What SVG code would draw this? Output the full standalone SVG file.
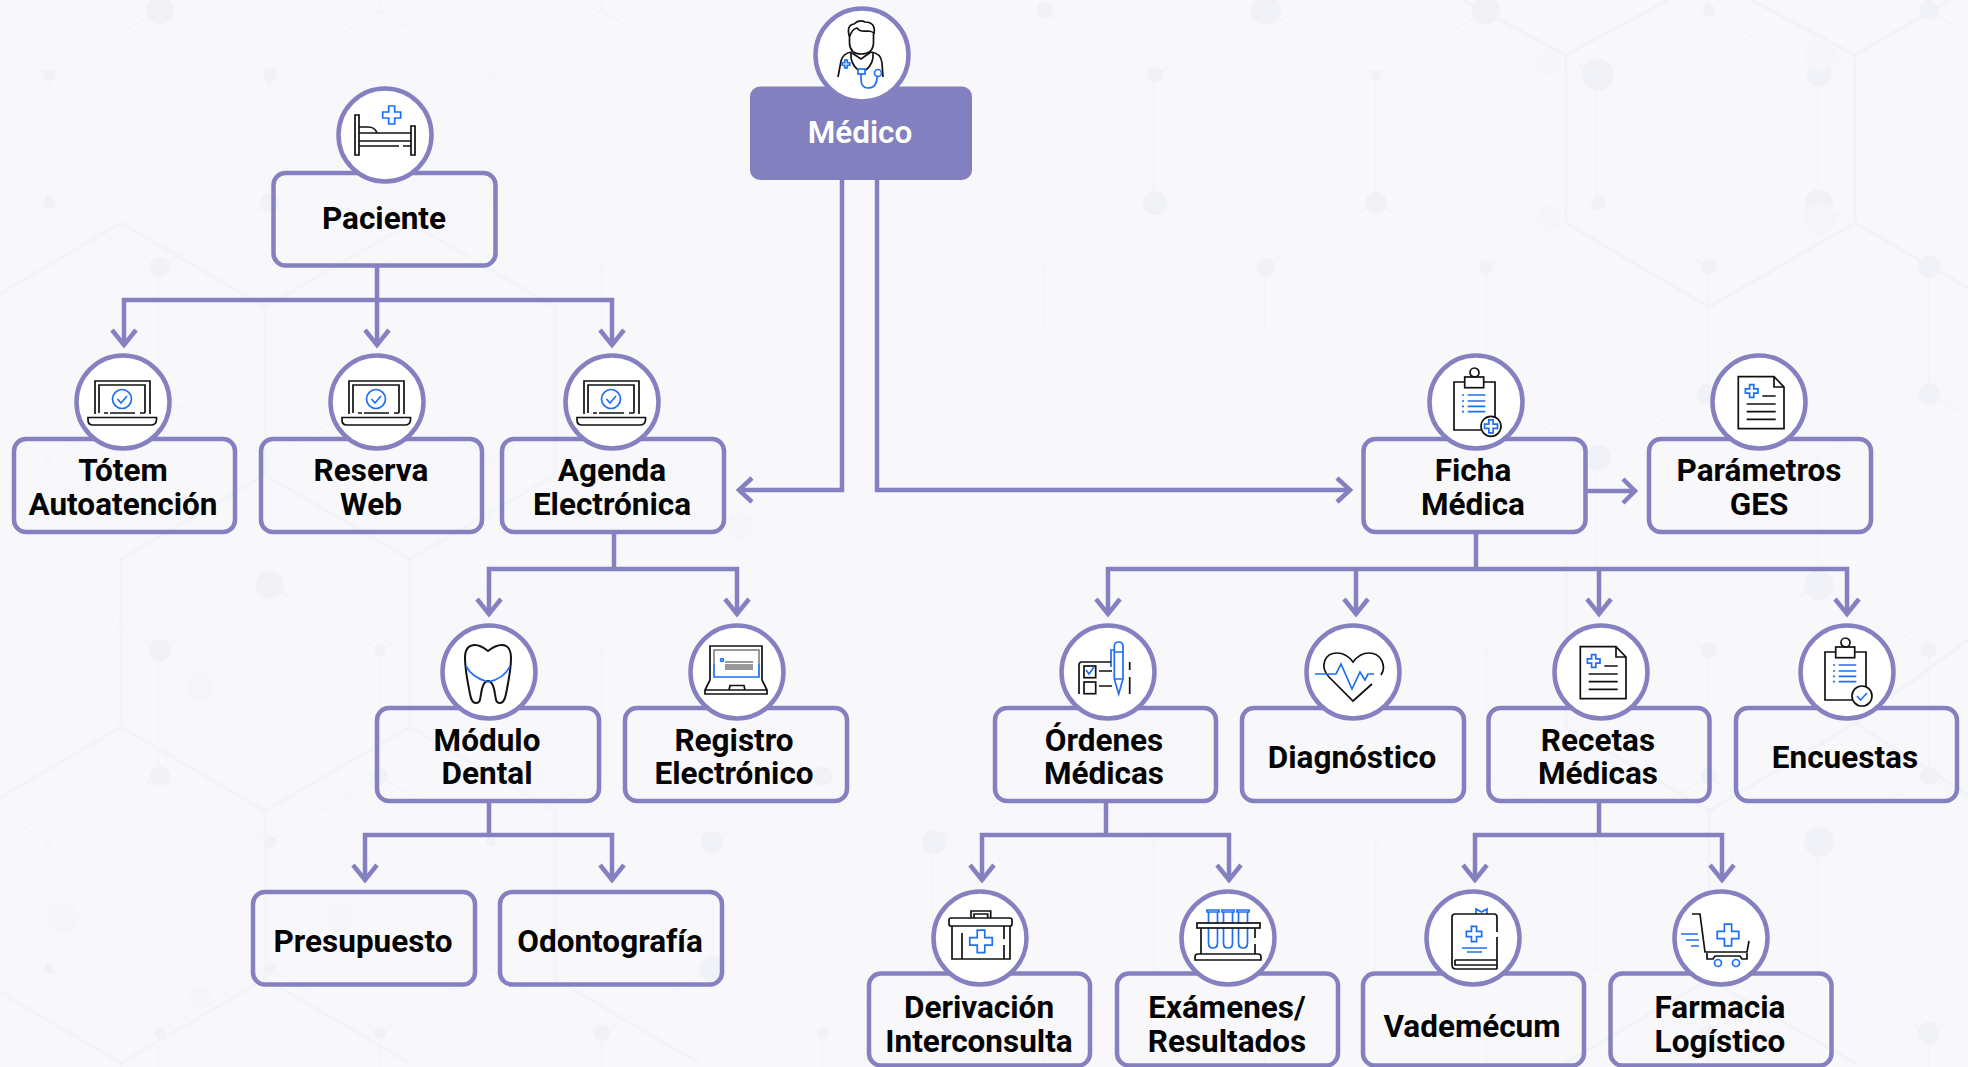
<svg xmlns="http://www.w3.org/2000/svg" xmlns:xlink="http://www.w3.org/1999/xlink" width="1968" height="1067" viewBox="0 0 1968 1067">
<style>
.box{fill:none;stroke:#8581c0;stroke-width:4.5}
.disc{fill:#fff;stroke:#8581c0;stroke-width:4.5}
.lbl{font-family:Roboto,"Liberation Sans",sans-serif;font-weight:700;font-size:31.500px;fill:#050505;text-anchor:middle}
.conn{fill:none;stroke:#8581c0;stroke-width:4.5}
.head{fill:none;stroke:#8581c0;stroke-width:4.5}
.k{fill:none;stroke:#111;stroke-width:1.7}
.b{fill:none;stroke:#1e6ff2;stroke-width:1.7}
.bx{fill:none;stroke:#1e6ff2;stroke-width:1.7;vector-effect:non-scaling-stroke}
.g{fill:none;stroke:#777;stroke-width:1.5}
.dot{fill:#f0f2f8}
.dot2{fill:#f5f5fa}
</style>
<defs>
<pattern id="thin" patternUnits="userSpaceOnUse" width="221.3" height="383" patternTransform="translate(48 75)">
<path d="M0,0V128L110.65,192L221.3,128V0M110.65,192V319L0,383M110.65,319L221.3,383" fill="none" stroke="#f3f4f9" stroke-width="1.5"/>
</pattern>
<path id="cross" d="M-3,-9H3V-3H9V3H3V9H-3V3H-9V-3H-3Z" class="bx"/>
<g id="i-laptop">
<path class="k" d="M-28,12V-21H27V12M-24,11V-17H22V11M-19,11H-15M-13,11H12M17,11H22"/>
<path class="k" d="M-35,15.500H33.500V18Q33,23 28,23H-30Q-35,23 -35,18Z"/>
<circle class="b" cx="-1" cy="-3" r="9.500"/>
<path class="b" d="M-5.500,-3L-2,1L4,-6"/>
</g>
<g id="i-doc">
<path class="k" d="M-20.700,-25.300H15L25,-15V26.700H-20.700ZM15,-25.300V-15H25"/>
<use href="#cross" transform="translate(-7.300 -11) scale(.7)"/>
<path class="k" d="M3.300,-6H16.700M-12.300,2H16.700M-12.300,9.700H16.700M-12.300,17.300H16.700"/>
</g>
<g id="i-clip">
<path class="k" d="M-11,-20H-22V28H19V-20H8"/>
<rect class="k" x="-11.300" y="-25" width="19" height="10.700"/>
<circle class="k" cx="-1.500" cy="-29.500" r="4.500"/>
<path class="b" d="M-8.300,-7H9.300M-8.300,-1H9.300M-8.300,4.300H9.300M-8.300,9.700H9.300M-14,-7H-12M-14,-1H-12M-14,4.300H-12M-14,9.700H-12"/>
</g>
</defs>
<rect width="1968" height="1067" fill="#f8f8fb"/>
<g id="background">
<rect x="0" y="0" width="640" height="1067" fill="url(#thin)"/>
<rect x="1040" y="0" width="928" height="330" fill="url(#thin)"/>
<rect x="1430" y="330" width="538" height="737" fill="url(#thin)"/>
<rect x="640" y="800" width="790" height="267" fill="url(#thin)"/>
<path d="M1462,0L1566,55V223L1709,307L1855,223V55L1751,0M1566,55L1668,0M1855,55L1950,0M1855,223L1968,288" fill="none" stroke="#f1f3f8" stroke-width="3.500"/>
<path d="M-23,307L121,223L265,307V475L121,559V727L-23,811M265,475L410,559V727L265,811V979L121,1063M410,223L265,307M410,223L555,307V475L410,559M121,727L265,811M410,727L555,811V979L699,1063M-23,979L121,1063V1067M265,979L410,1063" fill="none" stroke="#f3f4f9" stroke-width="3.500"/>
<path d="M1968,640L1855,723L1709,811V979L1566,1063M1709,979L1855,1063M1855,723L1968,795M1709,811L1566,727M1566,727V559" fill="none" stroke="#f1f3f8" stroke-width="3.500"/>
<circle class="dot" cx="160" cy="10" r="14"/><circle class="dot" cx="49" cy="75" r="6"/><circle class="dot" cx="270" cy="75" r="7"/>
<circle class="dot" cx="49" cy="203" r="6"/><circle class="dot" cx="270" cy="203" r="10"/><circle class="dot" cx="160" cy="267" r="10"/>
<circle class="dot" cx="270" cy="585" r="14"/><circle class="dot" cx="160" cy="650" r="11"/><circle class="dot" cx="380" cy="650" r="6"/>
<circle class="dot" cx="160" cy="776" r="10"/><circle class="dot" cx="380" cy="776" r="8"/><circle class="dot" cx="270" cy="842" r="6"/>
<circle class="dot" cx="491" cy="842" r="5"/><circle class="dot" cx="712" cy="842" r="11"/><circle class="dot" cx="934" cy="842" r="12"/>
<circle class="dot" cx="823" cy="776" r="10"/><circle class="dot" cx="49" cy="969" r="5"/><circle class="dot" cx="270" cy="969" r="6"/>
<circle class="dot" cx="712" cy="969" r="13"/><circle class="dot" cx="160" cy="1033" r="6"/><circle class="dot" cx="380" cy="1033" r="6"/>
<circle class="dot" cx="602" cy="1033" r="8"/><circle class="dot" cx="823" cy="1033" r="6"/>
<circle class="dot" cx="1045" cy="10" r="8"/><circle class="dot" cx="1266" cy="10" r="15"/><circle class="dot" cx="1486" cy="10" r="14"/>
<circle class="dot" cx="1709" cy="10" r="6"/><circle class="dot" cx="1929" cy="10" r="10"/>
<circle class="dot" cx="1155" cy="75" r="8"/><circle class="dot" cx="1376" cy="75" r="5"/><circle class="dot" cx="1598" cy="75" r="16"/><circle class="dot" cx="1819" cy="75" r="12"/>
<circle class="dot" cx="1155" cy="203" r="12"/><circle class="dot" cx="1376" cy="203" r="11"/><circle class="dot" cx="1598" cy="203" r="7"/><circle class="dot" cx="1819" cy="203" r="14"/>
<circle class="dot" cx="1266" cy="267" r="9"/><circle class="dot" cx="1486" cy="267" r="7"/><circle class="dot" cx="1709" cy="267" r="8"/><circle class="dot" cx="1929" cy="267" r="11"/>
<circle class="dot" cx="1707" cy="394" r="10"/><circle class="dot" cx="1929" cy="394" r="11"/><circle class="dot" cx="1598" cy="458" r="13"/>
<circle class="dot" cx="1819" cy="585" r="15"/><circle class="dot" cx="1709" cy="650" r="8"/><circle class="dot" cx="1929" cy="650" r="8"/>
<circle class="dot" cx="1709" cy="776" r="8"/><circle class="dot" cx="1929" cy="776" r="9"/><circle class="dot" cx="1819" cy="842" r="15"/>
<circle class="dot" cx="1929" cy="1033" r="11"/><circle class="dot" cx="1709" cy="1033" r="9"/>
<circle class="dot2" cx="63" cy="918" r="16"/><circle class="dot2" cx="200" cy="687" r="14"/><circle class="dot2" cx="200" cy="997" r="11"/>
<circle class="dot2" cx="340" cy="918" r="14"/><circle class="dot2" cx="740" cy="527" r="14"/><circle class="dot2" cx="1549" cy="62" r="13"/>
<circle class="dot2" cx="1549" cy="217" r="12"/><circle class="dot2" cx="1820" cy="55" r="16"/><circle class="dot2" cx="1820" cy="220" r="16"/>
</g>
<g id="connectors">
<path class="conn" d="M377,267V343M124,346V300H612V346"/>
<path class="conn" d="M842,180V490H741"/>
<path class="conn" d="M877,180V490H1348"/>
<path class="conn" d="M1587,491H1634"/>
<path class="conn" d="M614,534V569M489,615V569H737V615"/>
<path class="conn" d="M1476,534V569M1108,615V569H1847V615M1356,569V615M1599,569V615"/>
<path class="conn" d="M489,803V835M365,881V835H612V881"/>
<path class="conn" d="M1106,803V835M982,881V835H1229V881"/>
<path class="conn" d="M1599,803V835M1475,881V835H1722V881"/>
<g class="head">
<path class="head" d="M112,330L124,345L136,330M365,330L377,345L389,330M600,330L612,345L624,330"/>
<path class="head" d="M752,478L739,490L752,502M1337,478L1350,490L1337,502M1623,479L1635,491L1623,503"/>
<path class="head" d="M477,599L489,614L501,599M725,599L737,614L749,599M1096,599L1108,614L1120,599M1344,599L1356,614L1368,599M1587,599L1599,614L1611,599M1835,599L1847,614L1859,599"/>
<path class="head" d="M353,865L365,880L377,865M600,865L612,880L624,865M970,865L982,880L994,865M1217,865L1229,880L1241,865M1463,865L1475,880L1487,865M1710,865L1722,880L1734,865"/>
</g>
</g>
<g id="medico">
<rect x="750" y="86.500" width="222" height="93.500" rx="10" fill="#8380bf"/>
<circle class="disc" cx="862" cy="55" r="46.500"/>
<g transform="translate(862 55)">
<path class="k" d="M-12.500,-20V-12Q-12,-1 -1,-1Q11,-1 11.500,-12V-21M-12.500,-18Q-16,-30 -8,-31Q-3,-36 3,-33Q14,-33 12,-21Q11,-24 5,-24Q-2,-23 -5,-27Q-10,-26 -12.500,-18"/>
<path class="k" d="M-24,22L-21,6Q-19,-2 -10,-3M21,22L20,8Q19,-2 9,-3M-10,-2L-1,4L9,-3M-11,-2Q-12,8 -4,15M11,-2Q12,8 4,15"/>
<rect class="b" x="-4" y="14" width="7" height="5"/>
<path class="b" d="M-1,19V24Q-1,33 6,33Q15,33 15,22"/>
<circle class="b" cx="16" cy="18" r="3.500"/>
<use href="#cross" transform="translate(-16 9) scale(.42)"/>
</g>
<text x="860" y="143" text-anchor="middle" font-family="Roboto,'Liberation Sans',sans-serif" font-weight="600" font-size="31.500" fill="#fff">Médico</text>
</g>
<g id="paciente">
<rect class="box" x="273.500" y="173" width="222" height="92.500" rx="12"/>
<circle class="disc" cx="385" cy="135" r="46.500"/>
<g transform="translate(385 135)">
<path class="k" d="M-30,-20H-26V20H-30ZM26,-9H30V20H26ZM-26,-2H26M-26,6H26M-26,11H14M18,11H26M-26,-8H-17Q-10,-8 -8,-2"/>
<use href="#cross" transform="translate(6.700 -20)"/>
</g>
<text class="lbl" x="384" y="229">Paciente</text>
</g>
<g id="totem">
<rect class="box" x="14" y="439" width="221" height="93" rx="12"/>
<circle class="disc" cx="123" cy="402" r="46.500"/>
<use href="#i-laptop" x="123" y="402"/>
<text class="lbl" x="123" y="481">Tótem</text><text class="lbl" x="123" y="515">Autoatención</text>
</g>
<g id="reserva">
<rect class="box" x="261" y="439" width="221" height="93" rx="12"/>
<circle class="disc" cx="377" cy="402" r="46.500"/>
<use href="#i-laptop" x="377" y="402"/>
<text class="lbl" x="371" y="481">Reserva</text><text class="lbl" x="371" y="515">Web</text>
</g>
<g id="agenda">
<rect class="box" x="502" y="439" width="222" height="93" rx="12"/>
<circle class="disc" cx="612" cy="402" r="46.500"/>
<use href="#i-laptop" x="612" y="402"/>
<text class="lbl" x="612" y="481">Agenda</text><text class="lbl" x="612" y="515">Electrónica</text>
</g>
<g id="ficha">
<rect class="box" x="1363.500" y="439" width="222" height="93" rx="12"/>
<circle class="disc" cx="1476" cy="402" r="46.500"/>
<g transform="translate(1476 402)">
<use href="#i-clip"/>
<circle cx="15" cy="24.300" r="10" fill="#fff" stroke="#111" stroke-width="1.700"/>
<use href="#cross" transform="translate(15 24.300) scale(.72)"/>
</g>
<text class="lbl" x="1473" y="481">Ficha</text><text class="lbl" x="1473" y="515">Médica</text>
</g>
<g id="parametros">
<rect class="box" x="1649" y="439" width="222" height="93" rx="12"/>
<circle class="disc" cx="1759" cy="402" r="46.500"/>
<use href="#i-doc" x="1759" y="402"/>
<text class="lbl" x="1759" y="481">Parámetros</text><text class="lbl" x="1759" y="515">GES</text>
</g>
<g id="modulo">
<rect class="box" x="377" y="708" width="222" height="93" rx="12"/>
<circle class="disc" cx="489" cy="672" r="46.500"/>
<g transform="translate(489 672)">
<path d="M-1,-21C-6,-25 -10,-27 -14,-27C-22,-27 -24,-20 -24,-14C-24,-2 -21,12 -19,22C-18,28 -16,31 -13,31C-9,31 -9,28 -8,22C-7,15 -5,9 -1,9C3,9 5,15 6,22C7,28 7,31 11,31C14,31 16,27 17,22C19,12 22,-2 22,-14C22,-20 20,-27 13,-27C8,-27 4,-25 -1,-21Z" fill="none" stroke="#111" stroke-width="2"/>
<path class="b" d="M-23,-6C-18,4 -8,8 -1,10C8,8 17,3 21,-6"/>
</g>
<text class="lbl" x="487" y="751">Módulo</text><text class="lbl" x="487" y="784">Dental</text>
</g>
<g id="registro">
<rect class="box" x="625" y="708" width="222" height="93" rx="12"/>
<circle class="disc" cx="737" cy="672" r="46.500"/>
<g transform="translate(737 672)">
<path class="k" d="M-27,8V-26H25V8"/>
<path class="g" d="M-23,-8V-22H22V-8M-12,-10H16M-12,-7H16M-12,-5H16M-12,-3H16"/>
<path class="b" d="M-23,-8V5H22V-8"/><circle class="b" cx="-15" cy="-12" r="1.500"/>
<path class="k" d="M-27,8L-32,18V22H30V18L25,8M-32,18H30M-8,18L-7,13.500H7L8,18"/>
</g>
<text class="lbl" x="734" y="751">Registro</text><text class="lbl" x="734" y="784">Electrónico</text>
</g>
<g id="ordenes">
<rect class="box" x="995" y="708" width="221" height="93" rx="12"/>
<circle class="disc" cx="1108" cy="672" r="46.500"/>
<g transform="translate(1108 672)">
<path class="b" d="M6.300,7V-26Q6.300,-30 10.700,-30Q15,-30 15,-26V7L10.700,22L6.300,7ZM6.300,-20H15M6.300,7H15M6.300,-22H3V-5"/>
<path class="k" d="M3,-10H-26Q-29,-10 -29,-7V22M21.700,-10V-2M21.700,5V22M-9,-1H4M-9,14H4"/>
<rect class="k" x="-24" y="-6" width="11.700" height="11.700"/><rect class="k" x="-24" y="10" width="11.700" height="11.700"/>
<path class="b" d="M-22,-2L-19,2L-14,-5"/>
</g>
<text class="lbl" x="1104" y="751">Órdenes</text><text class="lbl" x="1104" y="784">Médicas</text>
</g>
<g id="diagnostico">
<rect class="box" x="1242" y="708" width="222" height="93" rx="12"/>
<circle class="disc" cx="1353" cy="672" r="46.500"/>
<g transform="translate(1353 672)">
<path class="k" d="M19,12L0,29L-24,5C-34,-6 -28,-19 -16,-19C-8,-19 -3,-14 0,-10C3,-14 8,-19 16,-19C28,-19 34,-6 28,3"/>
<path class="b" d="M-38,2H-17L-12,-8L-1,17L7,0L12,8L15,2H21"/>
</g>
<text class="lbl" x="1352" y="768">Diagnóstico</text>
</g>
<g id="recetas">
<rect class="box" x="1488.500" y="708" width="221" height="93" rx="12"/>
<circle class="disc" cx="1601" cy="672" r="46.500"/>
<use href="#i-doc" x="1601" y="672"/>
<text class="lbl" x="1598" y="751">Recetas</text><text class="lbl" x="1598" y="784">Médicas</text>
</g>
<g id="encuestas">
<rect class="box" x="1736" y="708" width="221" height="93" rx="12"/>
<circle class="disc" cx="1847" cy="672" r="46.500"/>
<g transform="translate(1847 672)">
<use href="#i-clip"/>
<circle cx="15" cy="24" r="10" fill="#fff" stroke="#111" stroke-width="1.700"/>
<path class="b" d="M10,24L13.500,28L20,21"/>
</g>
<text class="lbl" x="1845" y="768">Encuestas</text>
</g>
<g id="presupuesto">
<rect class="box" x="253" y="892" width="222" height="92.500" rx="12"/>
<text class="lbl" x="363" y="952">Presupuesto</text>
</g>
<g id="odontografia">
<rect class="box" x="500" y="892" width="222" height="92.500" rx="12"/>
<text class="lbl" x="610" y="952">Odontografía</text>
</g>
<g id="derivacion">
<rect class="box" x="869" y="973.500" width="221" height="92" rx="12"/>
<circle class="disc" cx="980" cy="938" r="46.500"/>
<g transform="translate(980 938)">
<path class="k" d="M-9,-20V-27H10.700V-20M-6,-20V-24H7.700V-20"/>
<rect class="k" x="-31" y="-20" width="63" height="8" rx="2"/>
<path class="k" d="M-28,-12V21H30V-12M-18,-5V21M24,-12V1M24,7V21"/>
<use href="#cross" transform="translate(1 3.300) scale(1.250)"/>
</g>
<text class="lbl" x="979" y="1018">Derivación</text><text class="lbl" x="979" y="1052">Interconsulta</text>
</g>
<g id="examenes">
<rect class="box" x="1117" y="973.500" width="221" height="92" rx="12"/>
<circle class="disc" cx="1228" cy="938" r="46.500"/>
<g transform="translate(1228 938)">
<path class="b" d="M-19.500,-26V5Q-19.500,10 -15,10Q-10.500,10 -10.500,5V-26M-4.500,-26V5Q-4.500,10 0,10Q4.500,10 4.500,5V-26M10.500,-26V5Q10.500,10 15,10Q19.500,10 19.500,5V-26M-21,-28H-9V-26H-21ZM-6,-28H6V-26H-6ZM9,-28H21V-26H9Z"/>
<rect x="-31" y="-15" width="63" height="5" fill="#fff" stroke="#111" stroke-width="1.700"/>
<path class="k" d="M-27,-10V16M27,-10V0M27,6V16M-33,22V19Q-33,16 -30,16H30Q33,16 33,19V22Z"/>
</g>
<text class="lbl" x="1227" y="1018">Exámenes/</text><text class="lbl" x="1227" y="1052">Resultados</text>
</g>
<g id="vademecum">
<rect class="box" x="1363" y="973.500" width="221" height="92" rx="12"/>
<circle class="disc" cx="1473" cy="938" r="46.500"/>
<g transform="translate(1473 938)">
<path class="b" d="M3,-24V-29L8.500,-26L14,-29V-24"/>
<path class="k" d="M-21,27V-21Q-21,-24 -18,-24H21Q24,-24 24,-21V-6M24,-1V31M-21,27Q-21,31 -17,31H24M-18,22H24M-18,22V27H24"/>
<use href="#cross" transform="translate(1 -4) scale(.85)"/>
<path class="b" d="M-11,10H14M-6,14H9"/>
</g>
<text class="lbl" x="1472" y="1037">Vademécum</text>
</g>
<g id="farmacia">
<rect class="box" x="1610.500" y="973.500" width="221" height="92" rx="12"/>
<circle class="disc" cx="1721" cy="938" r="46.500"/>
<g transform="translate(1721 938)">
<path class="k" d="M-29,-24H-21L-16,14H26L28,3M-14,15V21H-8L-6,18H19L21,21H26V15"/>
<circle class="b" cx="-3" cy="25" r="3.500"/><circle class="b" cx="15" cy="25" r="3.500"/>
<path class="b" d="M-40,-4H-23M-35,2H-22M-30,8H-22"/>
<use href="#cross" transform="translate(7 -3) scale(1.200)"/>
</g>
<text class="lbl" x="1720" y="1018">Farmacia</text><text class="lbl" x="1720" y="1052">Logístico</text>
</g>
</svg>
